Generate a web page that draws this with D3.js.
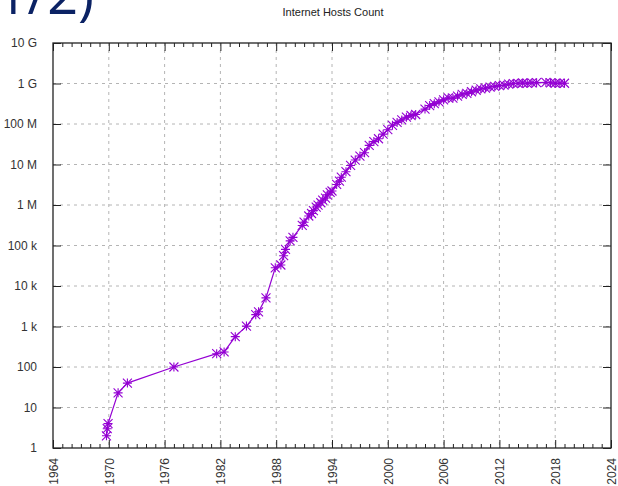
<!DOCTYPE html>
<html>
<head>
<meta charset="utf-8">
<script src="https://cdn.jsdelivr.net/npm/d3@7"></script>
<style>
  body { margin: 0; background: #fff; }
  svg { display: block; font-family: "Liberation Sans", Arial, sans-serif; }
</style>
</head>
<body>
<svg id="chart"></svg>
<script>
// survey dates (decimal years) and host counts
var years = [1969.75, 1969.83, 1969.92, 1971.0, 1972.0, 1977.0, 1981.6, 1982.4, 1983.6, 1984.8,
  1985.8, 1986.1, 1986.9, 1987.9, 1988.5, 1988.8, 1989.0, 1989.5, 1989.8, 1990.8,
  1991.0, 1991.5, 1991.8, 1992.0, 1992.3, 1992.5, 1992.8, 1993.0, 1993.3, 1993.5,
  1993.8, 1994.0, 1994.5, 1994.8, 1995.0, 1995.5, 1996.0, 1996.5, 1997.0, 1997.5,
  1998.0, 1998.5, 1999.0, 1999.5, 2000.0, 2000.5, 2001.0, 2001.5, 2002.0, 2002.5,
  2003.0, 2004.0, 2004.5, 2005.0, 2005.5, 2006.0, 2006.5, 2007.0, 2007.5, 2008.0,
  2008.5, 2009.0, 2009.5, 2010.0, 2010.5, 2011.0, 2011.5, 2012.0, 2012.5, 2013.0,
  2013.5, 2014.0, 2014.5, 2015.0, 2015.5, 2016.0, 2017.0, 2017.5, 2018.0, 2018.5, 2019.0];
var hosts = [2, 3, 4, 23, 40, 100, 213, 235, 562, 1024,
  1961, 2308, 5089, 28174, 33000, 56000, 80000, 130000, 159000, 313000,
  376000, 535000, 617000, 727000, 890000, 992000, 1136000, 1313000, 1486000, 1776000,
  2056000, 2217000, 3212000, 3864000, 4852000, 6642000, 9472000, 12881000, 16146000, 19540000,
  29670000, 36739000, 43230000, 56218000, 72398092, 93047785, 109574429, 125888197, 147344723, 162128493,
  171638297, 233101481, 285139107, 317646084, 353284187, 394991609, 439286364, 433193199, 489774269, 541677360,
  570937778, 625226456, 681064561, 732740444, 768913036, 818374269, 849869781, 888239420, 908585739, 963518598,
  996230757, 1010251829, 1028544414, 1012706480, 1033836245, 1048766623, 1062660523, 1040000000, 1015000000, 1020000000, 1014000000];

var yTickValues = [1, 10, 100, 1e3, 1e4, 1e5, 1e6, 1e7, 1e8, 1e9, 1e10];
var yTickLabels = ["1", "10", "100", "1 k", "10 k", "100 k", "1 M", "10 M", "100 M", "1 G", "10 G"];
var xTickValues = [1964, 1970, 1976, 1982, 1988, 1994, 2000, 2006, 2012, 2018, 2024];

var svgWidth = 618;
var svgHeight = 486;
var margin = { top: 43, right: 7, bottom: 38, left: 53 };
var width = svgWidth - margin.left - margin.right;
var height = svgHeight - margin.top - margin.bottom;
var lineColor = "#9400d3";

var svg = d3.select("#chart")
  .attr("width", svgWidth)
  .attr("height", svgHeight);

// slide heading, cut off by the top edge like in the original slide
svg.append("text")
  .attr("x", 94)
  .attr("y", 14)
  .attr("text-anchor", "end")
  .style("font-size", "54px")
  .style("font-family", "'Open Sans', sans-serif")
  .style("fill", "#0b2264")
  .text("(1/2)");

// title
svg.append("text")
  .attr("x", 333)
  .attr("y", 16)
  .attr("text-anchor", "middle")
  .style("font-size", "11px")
  .style("fill", "#222")
  .text("Internet Hosts Count");

var g = svg.append("g")
  .attr("transform", "translate(" + margin.left + "," + margin.top + ")");

// scales
var xScale = d3.scaleLinear()
  .domain([1964, 2024])
  .range([0, width]);

var yScale = d3.scaleLog()
  .domain([1, 1e10])
  .range([height, 0]);

// ================ //
// ***** GRID ***** //
// ================ //

g.append("g")
  .selectAll("line")
  .data(xTickValues.slice(1, -1))
  .enter()
  .append("line")
  .attr("x1", function (d) { return xScale(d); })
  .attr("x2", function (d) { return xScale(d); })
  .attr("y1", 0)
  .attr("y2", height)
  .attr("stroke", "#b4b4b4")
  .attr("stroke-width", 1)
  .attr("stroke-dasharray", "3,4");

g.append("g")
  .selectAll("line")
  .data(yTickValues.slice(1, -1))
  .enter()
  .append("line")
  .attr("x1", 0)
  .attr("x2", width)
  .attr("y1", function (d) { return yScale(d); })
  .attr("y2", function (d) { return yScale(d); })
  .attr("stroke", "#b4b4b4")
  .attr("stroke-width", 1)
  .attr("stroke-dasharray", "3,4");

// ================ //
// ***** AXES ***** //
// ================ //

var minorYears = d3.range(1964, 2025).filter(function (d) { return (d - 1964) % 6 !== 0; });

function styleAxis(sel) {
  sel.select(".domain").remove();
  sel.selectAll(".tick line").attr("stroke", "#222");
  sel.selectAll("text")
    .style("font-size", "12px")
    .style("fill", "#333")
    .style("font-family", "'Liberation Sans', Arial, sans-serif");
}

// bottom axis, ticks point inward
var x_axis = d3.axisBottom(xScale)
  .tickValues(xTickValues)
  .tickFormat(d3.format("d"))
  .tickSizeInner(-8)
  .tickSizeOuter(0);

var xAxisG = g.append("g")
  .attr("transform", "translate(0," + height + ")")
  .call(x_axis)
  .call(styleAxis);

xAxisG.selectAll("text")
  .attr("transform", "rotate(-90)")
  .attr("x", -10)
  .attr("y", 0)
  .attr("dy", "0.35em")
  .style("text-anchor", "end");

g.append("g")
  .attr("transform", "translate(0," + height + ")")
  .call(d3.axisBottom(xScale).tickValues(minorYears).tickSizeInner(-4).tickSizeOuter(0).tickFormat(""))
  .call(styleAxis);

// top axis, mirrored
g.append("g")
  .call(d3.axisTop(xScale).tickValues(xTickValues).tickSizeInner(-8).tickSizeOuter(0).tickFormat(""))
  .call(styleAxis);

g.append("g")
  .call(d3.axisTop(xScale).tickValues(minorYears).tickSizeInner(-4).tickSizeOuter(0).tickFormat(""))
  .call(styleAxis);

// left axis
var y_axis = d3.axisLeft(yScale)
  .tickValues(yTickValues)
  .tickFormat(function (d, i) { return yTickLabels[i]; })
  .tickSizeInner(-8)
  .tickSizeOuter(0)
  .tickPadding(16);

g.append("g")
  .call(y_axis)
  .call(styleAxis);

// right axis, mirrored
g.append("g")
  .attr("transform", "translate(" + width + ",0)")
  .call(d3.axisRight(yScale).tickValues(yTickValues).tickSizeInner(-8).tickSizeOuter(0).tickFormat(""))
  .call(styleAxis);

// border
g.append("rect")
  .attr("x", 0)
  .attr("y", 0)
  .attr("width", width)
  .attr("height", height)
  .attr("fill", "none")
  .attr("stroke", "#222")
  .attr("stroke-width", 1.3);

// ================ //
// ***** LINE ***** //
// ================ //

var points = years.map(function (d, i) { return [d, hosts[i]]; });

var line = d3.line()
  .x(function (d) { return xScale(d[0]); })
  .y(function (d) { return yScale(d[1]); });

g.append("path")
  .datum(points)
  .attr("d", line)
  .attr("fill", "none")
  .attr("stroke", lineColor)
  .attr("stroke-width", 1.2);

// star markers (plus + cross)
var r = 4.5;
var star = "M" + (-r) + ",0H" + r + "M0," + (-r) + "V" + r +
  "M" + (-r) + "," + (-r) + "L" + r + "," + r +
  "M" + (-r) + "," + r + "L" + r + "," + (-r);

g.append("g")
  .selectAll("path")
  .data(points)
  .enter()
  .append("path")
  .attr("d", star)
  .attr("transform", function (d) {
    return "translate(" + xScale(d[0]) + "," + yScale(d[1]) + ")";
  })
  .attr("fill", "none")
  .attr("stroke", lineColor)
  .attr("stroke-width", 1.1);
</script>
</body>
</html>
